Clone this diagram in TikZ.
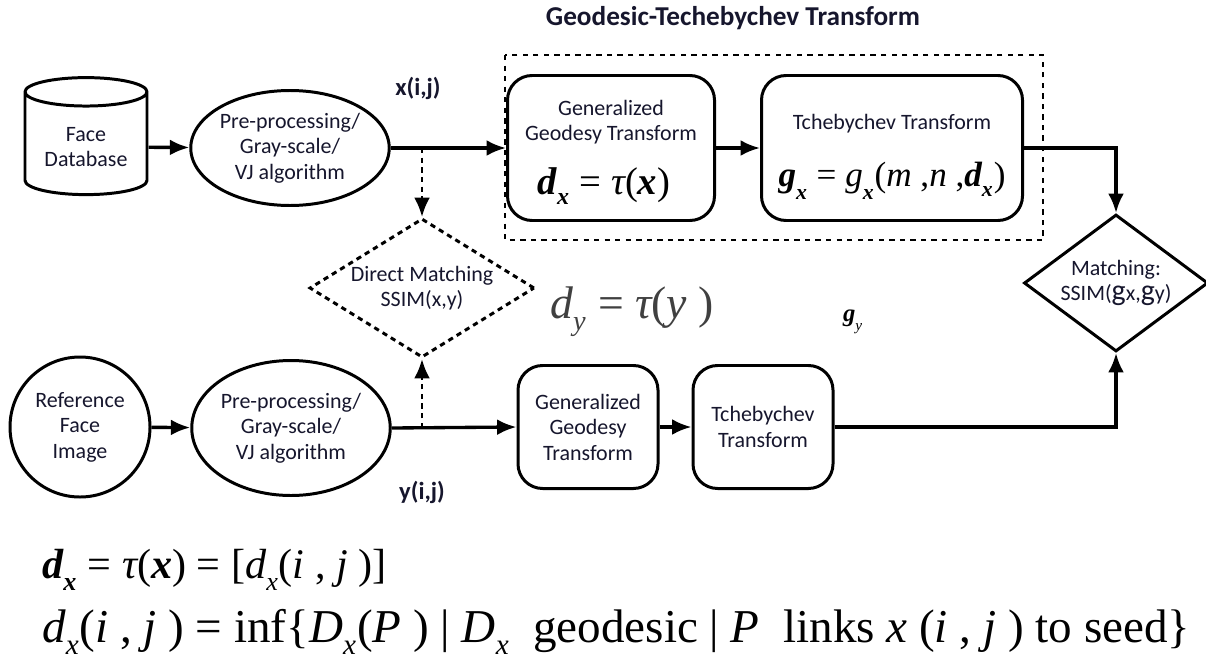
\documentclass[tikz,border=0pt]{standalone}
\usepackage{graphicx}
\usepackage{fontspec}
\setmainfont{Carlito}
\newfontfamily\tms{Liberation Serif}
\usetikzlibrary{shapes.geometric,arrows.meta}
\definecolor{txtc}{RGB}{22,22,45}
\newcommand{\mi}[1]{\mbox{\tms\itshape #1}}
\newcommand{\mb}[1]{\mbox{\tms\bfseries\itshape #1}}
\newcommand{\mr}[1]{\mbox{\tms #1}}
\newcommand{\subi}[1]{\raisebox{-0.25ex}{\scalebox{0.62}{\tms\itshape #1}}}
\newcommand{\subb}[1]{\raisebox{-0.25ex}{\scalebox{0.62}{\tms\bfseries\itshape #1}}}
\tikzset{
  lbl/.style={font=\fontsize{12.5}{14.5}\selectfont, text=txtc, align=center},
  blk/.style={lbl, draw, line width=1.7pt, rounded corners=14pt},
  oval/.style={lbl, draw, ellipse, line width=1.7pt, inner sep=0pt},
  dmnd/.style={lbl, draw, diamond, line width=1.7pt, inner sep=0pt},
  flow/.style={line width=1.9pt, ->},
  dflow/.style={line width=1.6pt, dashed, dash pattern=on 3pt off 2.5pt, ->},
  tag/.style={lbl, font=\bfseries\fontsize{14}{16}\selectfont},
}
\begin{document}
\begin{tikzpicture}[x=0.02cm,y=-0.02cm,>={Latex[length=11pt,width=9pt]}]
        \useasboundingbox (0,0) rectangle (1206,666);
        % upper branch
        \node[lbl, draw, line width=1.7pt, cylinder, shape border rotate=90, aspect=0.3,
              minimum width=122*0.02cm, minimum height=117*0.02cm] (db) at (86,147) {Face\\Database};
        \node[oval, minimum width=185*0.02cm, minimum height=115*0.02cm] (pre1) at (290,148) {Pre-processing/\\Gray-scale/\\VJ algorithm};
        \node[blk, minimum width=207*0.02cm, minimum height=145*0.02cm] (ggt1) at (611,148) {};
        \node[lbl] at (611,122) {Generalized\\Geodesy Transform};
        \node[lbl, font=\fontsize{22}{24}\selectfont, text=black] at (604,186) {$\mb{d}_{\subb{x}}\mr{ = }\mi{τ}\mr{(}\mb{x}\mr{)}$};
        \node[blk, minimum width=261*0.02cm, minimum height=145*0.02cm] (tt1) at (892,148) {};
        \node[lbl] at (892,124) {Tchebychev Transform};
        \node[lbl, font=\fontsize{20}{22}\selectfont, text=black] at (892,181) {$\mb{g}_{\subb{x}}\mr{ = }\mi{g}_{\subb{x}}\mr{(}\mi{m}\mr{ ,}\mi{n}\mr{ ,}\mb{d}_{\subb{x}}\mr{)}$};
        \draw[dashed, line width=0.6pt] (505,55) rectangle (1043,240);
        \node[tag, font=\bfseries\fontsize{15.5}{17}\selectfont] (gtt) at (733,18) {Geodesic-Techebychev Transform};
        \node[tag] (xl) at (418,88) {x(i,j)};
        % lower branch
        \node[lbl, draw, circle, line width=1.7pt, minimum size=140*0.02cm, inner sep=0pt] (ref) at (80,427) {Reference\\Face\\Image};
        \node[oval, minimum width=188*0.02cm, minimum height=135*0.02cm] (pre2) at (291,428) {Pre-processing/\\Gray-scale/\\VJ algorithm};
        \node[blk, minimum width=140*0.02cm, minimum height=123*0.02cm] (ggt2) at (588,427) {Generalized\\Geodesy\\Transform};
        \node[blk, minimum width=140*0.02cm, minimum height=123*0.02cm] (tt2) at (763,427) {Tchebychev\\Transform};
        \node[tag] (yl) at (422,492) {y(i,j)};
        % matching
        \node[dmnd, dashed, dash pattern=on 3pt off 2.5pt, aspect=1.62, minimum width=225*0.02cm, minimum height=139*0.02cm] (dm) at (422,288) {Direct Matching\\SSIM(x,y)};
        \node[dmnd, aspect=1.34, minimum width=184*0.02cm, minimum height=137*0.02cm] (mt) at (1116,283) {Matching:\\SSIM({\fontsize{17}{17}\selectfont g}x,{\fontsize{17}{17}\selectfont g}y)};
        \node[lbl, font=\fontsize{26}{28}\selectfont, text=black!75] (dy) at (632,312) {$\mi{d}_{\subi{y}}\mr{ = }\mi{τ}\mr{(}\mi{y}\mr{ )}$};
        \node[lbl, font=\fontsize{14}{15}\selectfont, text=black] (gy) at (853,322) {$\mb{g}_{\subi{y}}$};
        % connectors
        \coordinate (sx) at (422,148);
        \coordinate (sy) at (422,428);
        \draw[flow] (db) -- (pre1);
        \draw[flow] (pre1) -- (ggt1);
        \draw[flow] (ggt1) -- (tt1);
        \draw[flow] (tt1.east) -| (mt.north);
        \draw[dflow] (sx) -- (dm.north);
        \draw[flow] (ref) -- (pre2);
        \draw[flow] (pre2.east) -- (ggt2.west);
        \draw[flow] (ggt2) -- (tt2);
        \draw[flow] (tt2.east) -| (mt.south);
        \draw[dflow] (sy) -- (dm.south);
        % formulas
        \node[anchor=west, font=\fontsize{24}{26}\selectfont, text=black] (f1) at (36,570)
          {$\mb{d}_{\subb{x}}\mr{ = }\mi{τ}\mr{(}\mb{x}\mr{) = [}\mi{d}_{\subi{x}}\mr{(}\mi{i}\mr{ , }\mi{j}\mr{ )]}$};
        \node[anchor=west, font=\fontsize{26.8}{30}\selectfont, text=black] (f2) at (36,632)
          {$\mi{d}_{\subi{x}}\mr{(}\mi{i}\mr{ , }\mi{j}\mr{ ) = inf\{}\mi{D}_{\subi{x}}\mr{(}\mi{P}\mr{ ) | }\mi{D}_{\subi{x}}\mr{ \ geodesic | }\mi{P}\mr{ \ links }\mi{x}\mr{ (}\mi{i}\mr{ , }\mi{j}\mr{ ) to seed\}}$};
    \end{tikzpicture}
\end{document}
